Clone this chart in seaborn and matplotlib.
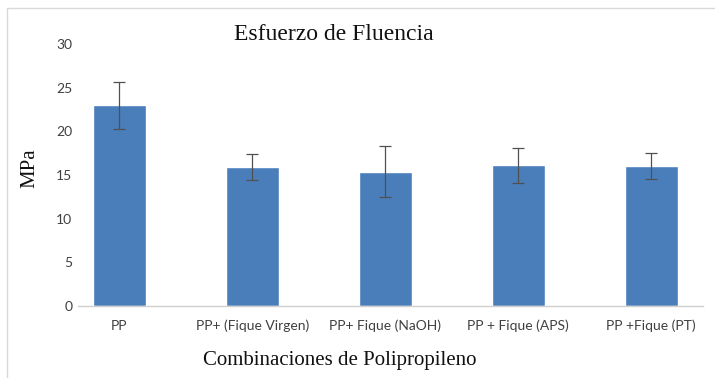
import matplotlib
matplotlib.use("Agg")
import matplotlib.pyplot as plt
import seaborn as sns
import pandas as pd

# Yield stress of polypropylene combinations (mean and std. deviation, MPa)
categories = ["PP", "PP+ (Fique Virgen)", "PP+ Fique (NaOH)", "PP + Fique (APS)", "PP +Fique (PT)"]
means = [23.0, 15.9, 15.4, 16.1, 16.0]
errors = [2.7, 1.5, 2.9, 2.0, 1.5]
y_ticks = [0, 5, 10, 15, 20, 25, 30]

sns.set_theme(style="white")
plt.rcParams["font.family"] = ["Liberation Sans Narrow", "Lato", "DejaVu Sans"]

df = pd.DataFrame({"combo": categories, "mpa": means})

fig = plt.figure(figsize=(7.15, 3.78), dpi=100)
ax = fig.add_axes([78 / 715, 72 / 378, 625 / 715, 262 / 378])

sns.barplot(data=df, x="combo", y="mpa", color="#4a7ebb", saturation=1,
            width=0.4, errorbar=None, ax=ax)
ax.errorbar(range(len(categories)), means, yerr=errors, fmt="none",
            ecolor="#505050", elinewidth=0.9, capsize=4.5, capthick=0.9)

ax.set_ylim(0, 30)
ax.set_xlim(-0.31, 4.39)
ax.set_yticks(y_ticks)
ax.set_yticklabels([str(t) for t in y_ticks])
ax.set_xlabel("")
ax.set_ylabel("")
ax.tick_params(axis="both", length=0, labelsize=10, colors="#404040")
ax.tick_params(axis="x", pad=10)
ax.tick_params(axis="y", pad=4)

for side in ["top", "right", "left"]:
    ax.spines[side].set_visible(False)
ax.spines["bottom"].set_color("#d0d0d0")
ax.spines["bottom"].set_linewidth(1.0)

serif = ["Liberation Serif", "DejaVu Serif"]
fig.text(334 / 715, 1 - 34 / 378, "Esfuerzo de Fluencia", ha="center", va="center",
         fontsize=17, family=serif, color="#111111")
fig.text(30 / 715, 1 - 168 / 378, "MPa", ha="center", va="center", rotation=90,
         fontsize=15, family=serif, color="#111111")
fig.text(340 / 715, 1 - 361 / 378, "Combinaciones de Polipropileno", ha="center",
         va="center", fontsize=15, family=serif, color="#111111")

# light chart-area frame along the top and left
fig.add_artist(plt.Line2D([7 / 715, 1], [1 - 8 / 378, 1 - 8 / 378],
                          transform=fig.transFigure, color="#d9d9d9", lw=1))
fig.add_artist(plt.Line2D([7 / 715, 7 / 715], [0, 1 - 8 / 378],
                          transform=fig.transFigure, color="#d9d9d9", lw=1))

fig.savefig("out.png", dpi=100)
